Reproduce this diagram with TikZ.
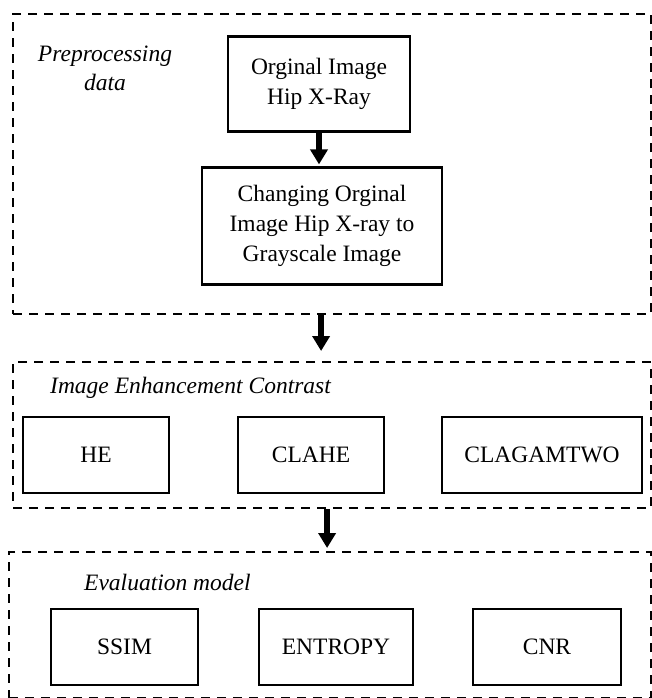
\documentclass[tikz,border=0pt]{standalone}
\usepackage{fontspec}
\setmainfont{Liberation Serif}
\usetikzlibrary{arrows.meta}
\begin{document}
\begin{tikzpicture}[x=1pt,y=-1pt,
  every node/.style={font=\fontsize{23.5}{30}\selectfont},
  frame/.style={draw, line width=2.2pt, dash pattern=on 9pt off 7pt, inner sep=0pt, anchor=north west},
  sbox/.style={draw, line width=2.2pt, inner sep=0pt, align=center},
  ttl/.style={font=\fontsize{23.5}{29}\selectfont\itshape, inner sep=0pt, align=center},
  arr/.style={line width=5.5pt, -{Triangle[width=17pt,length=15pt]}}]
\useasboundingbox (0,0) rectangle (652,698);
% frames
\node[frame, minimum width=638pt, minimum height=300pt] (f1) at (12,13) {};
\node[frame, minimum width=638pt, minimum height=146pt] (f2) at (12,361) {};
\node[frame, minimum width=642pt, minimum height=146pt] (f3) at (8,551) {};
% titles
\node[ttl] (t1) at (105,68) {Preprocessing\\data};
\node[ttl, anchor=west] (t2) at (50,388) {Image Enhancement Contrast};
\node[ttl, anchor=west] (t3) at (84,582) {Evaluation model};
% preprocessing boxes
\node[sbox, minimum width=182pt, minimum height=95pt] (o1) at (319,84) {Orginal Image\\Hip X-Ray};
\node[sbox, minimum width=240pt, minimum height=117pt] (o2) at (322,226) {Changing Orginal\\Image Hip X-ray to\\Grayscale Image};
% enhancement
\node[sbox, minimum width=146pt, minimum height=76pt] (he) at (96,455) {HE};
\node[sbox, minimum width=146pt, minimum height=76pt] (clahe) at (311,455) {CLAHE};
\node[sbox, minimum width=200pt, minimum height=76pt] (clag) at (542,455) {CLAGAMTWO};
% evaluation
\node[sbox, minimum width=147pt, minimum height=76pt] (ssim) at (124.5,647) {SSIM};
\node[sbox, minimum width=154pt, minimum height=76pt] (ent) at (336,647) {ENTROPY};
\node[sbox, minimum width=148pt, minimum height=76pt] (cnr) at (547,647) {CNR};
% arrows
\draw[arr, shorten >=2pt] (o1.south) -- (o1.south |- o2.north);
\draw[arr, shorten >=10pt] ([xshift=-11pt]f1.south) -- ([xshift=-11pt]f1.south |- f2.north);
\draw[arr, shorten >=3pt] ([xshift=-5pt]f2.south) -- ([xshift=-5pt]f2.south |- f3.north);
\end{tikzpicture}
\end{document}
